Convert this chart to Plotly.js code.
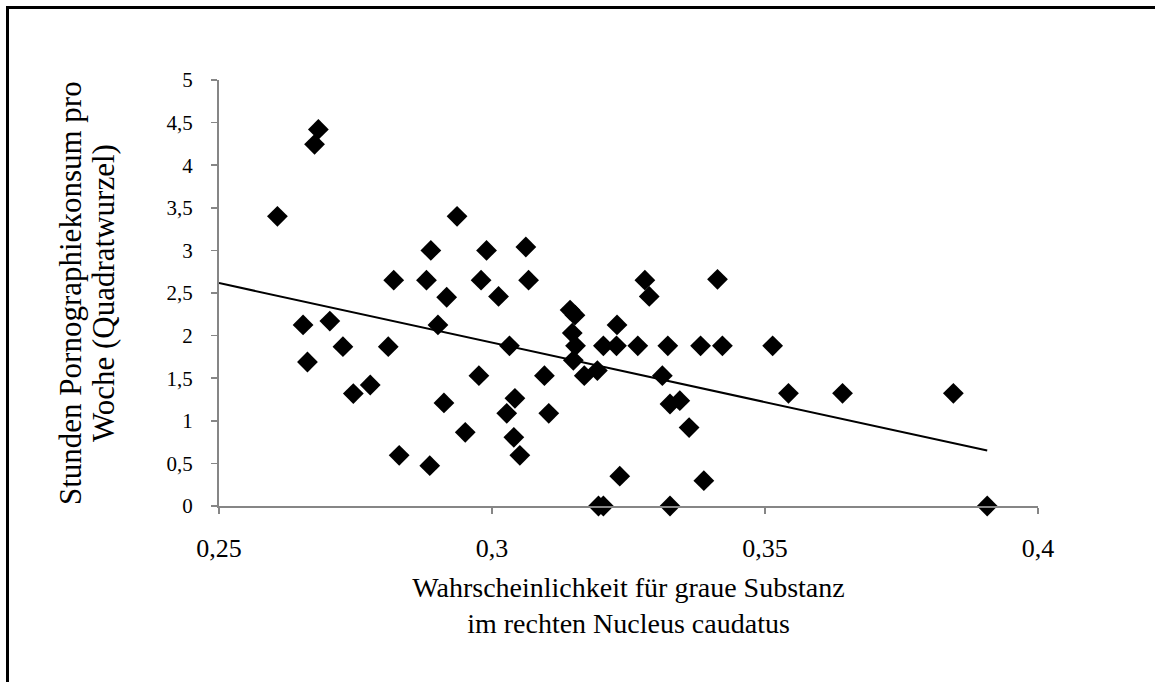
<!DOCTYPE html>
<html>
<head>
<meta charset="utf-8">
<script src="https://cdn.plot.ly/plotly-3.0.1.min.js"></script>
<style>
html,body{margin:0;padding:0;background:#fff;overflow:hidden;}
#chart{width:1155px;height:682px;position:absolute;left:0;top:0;}
#frame{position:absolute;left:6px;top:6px;width:1160px;height:700px;border:3px solid #000;pointer-events:none;box-sizing:border-box;}
</style>
</head>
<body>
<div id="chart"></div>
<div id="frame"></div>
<script>
// Wahrscheinlichkeit für graue Substanz (rechter Nucleus caudatus)
const grayMatter = [
  0.2607, 0.2654, 0.2662, 0.2675, 0.2682, 0.2703, 0.2727, 0.2746, 0.2777, 0.2810,
  0.2820, 0.2830, 0.2880, 0.2886, 0.2888, 0.2901, 0.2912, 0.2917, 0.2936, 0.2951,
  0.2976, 0.2980, 0.2990, 0.3012, 0.3027, 0.3032, 0.3040, 0.3042, 0.3051, 0.3062,
  0.3067, 0.3096, 0.3104, 0.3143, 0.3152, 0.3147, 0.3153, 0.3149, 0.3169, 0.3193,
  0.3195, 0.3204, 0.3204, 0.3229, 0.3228, 0.3234, 0.3267, 0.3280, 0.3288, 0.3312,
  0.3322, 0.3326, 0.3326, 0.3344, 0.3361, 0.3382, 0.3388, 0.3413, 0.3422, 0.3514,
  0.3543, 0.3642, 0.3845, 0.3907
];
// Stunden Pornographiekonsum pro Woche (Quadratwurzel)
const pornHoursSqrt = [
  3.40, 2.125, 1.69, 4.245, 4.42, 2.17, 1.87, 1.32, 1.42, 1.87,
  2.65, 0.595, 2.65, 0.473, 3.00, 2.125, 1.21, 2.45, 3.40, 0.865,
  1.53, 2.65, 3.00, 2.46, 1.088, 1.88, 0.806, 1.264, 0.595, 3.04,
  2.65, 1.53, 1.088, 2.30, 2.24, 2.03, 1.88, 1.71, 1.53, 1.59,
  0, 0, 1.88, 2.125, 1.88, 0.35, 1.88, 2.65, 2.46, 1.53,
  1.88, 1.197, 0, 1.236, 0.92, 1.88, 0.297, 2.66, 1.88, 1.88,
  1.323, 1.323, 1.323, 0
];
const xTickVals = [0.25, 0.3, 0.35, 0.4];
const xTickText = ['0,25', '0,3', '0,35', '0,4'];
const yTickVals = [0, 0.5, 1, 1.5, 2, 2.5, 3, 3.5, 4, 4.5, 5];
const yTickText = ['0', '0,5', '1', '1,5', '2', '2,5', '3', '3,5', '4', '4,5', '5'];
const yTitleLines = ['Stunden Pornographiekonsum pro', 'Woche (Quadratwurzel)'];
const xTitle = 'Wahrscheinlichkeit für graue Substanz<br>im rechten Nucleus caudatus';
const trendStartX = 0.25;

// linear least-squares trendline from the data
const n = grayMatter.length;
const mx = grayMatter.reduce((a,b)=>a+b,0)/n;
const my = pornHoursSqrt.reduce((a,b)=>a+b,0)/n;
let sxy = 0, sxx = 0;
for (let i=0;i<n;i++){ sxy += (grayMatter[i]-mx)*(pornHoursSqrt[i]-my); sxx += (grayMatter[i]-mx)**2; }
const slope = sxy/sxx, icpt = my - slope*mx;
const trendX = [trendStartX, Math.max(...grayMatter)];
const trendY = trendX.map(x => icpt + slope*x);

const fam = '"Liberation Serif", "Times New Roman", serif';
const f = s => ({family: fam, size: s, color: '#000'});

const data = [
  {
    x: trendX, y: trendY, type: 'scatter', mode: 'lines',
    line: {color: '#000', width: 2}, hoverinfo: 'skip', showlegend: false
  },
  {
    x: grayMatter, y: pornHoursSqrt, type: 'scatter', mode: 'markers',
    marker: {symbol: 'diamond', size: 16, color: '#000', line: {width: 0}},
    showlegend: false, cliponaxis: false
  }
];

const layout = {
  width: 1155, height: 682,
  margin: {l: 219, r: 117, t: 80, b: 176, pad: 0},
  paper_bgcolor: '#fff', plot_bgcolor: '#fff',
  separators: ', ',
  font: f(20),
  showlegend: false,
  xaxis: {
    range: [0.25, 0.4], tickvals: xTickVals, ticktext: xTickText,
    showgrid: false, zeroline: false, showline: true, linecolor: '#868686', linewidth: 2,
    ticks: 'outside', ticklen: 6, tickwidth: 1.5, tickcolor: '#868686',
    tickfont: f(26), ticklabelstandoff: 12,
    title: {text: xTitle, font: f(28), standoff: 15},
    fixedrange: true
  },
  yaxis: {
    range: [0, 5], tickvals: yTickVals, ticktext: yTickText,
    showgrid: false, zeroline: false, showline: true, linecolor: '#868686', linewidth: 2,
    ticks: 'outside', ticklen: 6, tickwidth: 1.5, tickcolor: '#868686',
    tickfont: f(21), ticklabelstandoff: 14,
    fixedrange: true
  },
  annotations: yTitleLines.map((t, i) => ({
    text: t, textangle: -90, font: f(31), showarrow: false,
    xref: 'paper', yref: 'paper', x: 0, y: 0.5, xanchor: 'center', yanchor: 'middle',
    xshift: i === 0 ? -149 : -116
  }))
};

Plotly.newPlot('chart', data, layout, {staticPlot: true, displayModeBar: false});
</script>
</body>
</html>
